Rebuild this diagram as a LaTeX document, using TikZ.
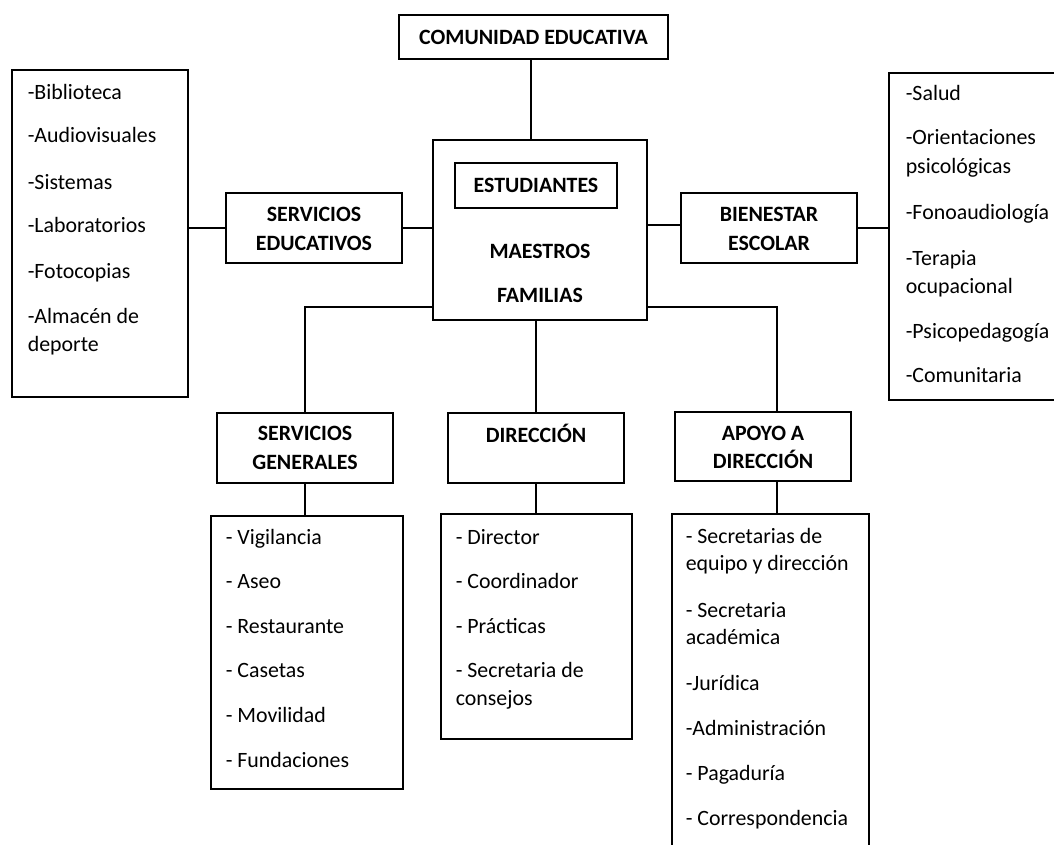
\documentclass[tikz,border=0pt]{standalone}
\usepackage{fontspec}
\setmainfont{Carlito}
\begin{document}
\begin{tikzpicture}[x=0.75pt,y=-0.75pt,
  line width=1.2pt,
  box/.style={draw, rectangle, inner sep=0pt},
  hd/.style={font=\fontsize{16.4}{21.5}\selectfont\bfseries, align=center, inner sep=0pt},
  it/.style={font=\fontsize{16.4}{21}\selectfont, anchor=base west, inner sep=0pt}]
\clip (0,0) rectangle (1054,844);
\fill[white] (0,0) rectangle (1054,844);
% top
\node[box, minimum width=269*0.75pt, minimum height=44*0.75pt] (com) at (533.5,37) {};
\node[hd] (comt) at (533.5,37) {COMUNIDAD EDUCATIVA};
% center box
\node[box, minimum width=214*0.75pt, minimum height=180*0.75pt] (cen) at (540,230) {};
\node[box, minimum width=162*0.75pt, minimum height=45*0.75pt] (est) at (536,185.5) {};
\node[hd] (estt) at (536,185.5) {ESTUDIANTES};
\node[hd] (mae) at (540,251) {MAESTROS};
\node[hd] (fam) at (540,295) {FAMILIAS};
% servicios educativos
\node[box, minimum width=176*0.75pt, minimum height=70*0.75pt] (se) at (314,228) {};
\node[hd] (set) at (314,229) {SERVICIOS\\EDUCATIVOS};
\node[box, minimum width=176*0.75pt, minimum height=327*0.75pt] (ll) at (100,233.5) {};
\node[it] (l1) at (27,99) {-Biblioteca};
\node[it] (l2) at (27,142) {-Audiovisuales};
\node[it] (l3) at (27,189) {-Sistemas};
\node[it] (l4) at (27,232) {-Laboratorios};
\node[it] (l5) at (27,278) {-Fotocopias};
\node[it] (l6) at (27,323) {-Almacén de};
\node[it] (l7) at (27,351) {deporte};
% bienestar
\node[box, minimum width=176*0.75pt, minimum height=70*0.75pt] (be) at (769,228) {};
\node[hd] (bet) at (769,229) {BIENESTAR\\ESCOLAR};
\node[box, minimum width=180*0.75pt, minimum height=327*0.75pt] (rl) at (979,236.5) {};
\node[it] (r1) at (905,100) {-Salud};
\node[it] (r2) at (905,144) {-Orientaciones};
\node[it] (r3) at (905,173) {psicológicas};
\node[it] (r4) at (905,219) {-Fonoaudiología};
\node[it] (r5) at (905,265) {-Terapia};
\node[it] (r6) at (905,293) {ocupacional};
\node[it] (r7) at (905,338) {-Psicopedagogía};
\node[it] (r8) at (905,382) {-Comunitaria};
% servicios generales
\node[box, minimum width=176*0.75pt, minimum height=70*0.75pt] (sg) at (305,448) {};
\node[hd] (sgt) at (305,448) {SERVICIOS\\GENERALES};
\node[box, minimum width=192*0.75pt, minimum height=273*0.75pt] (sgl) at (307,652.5) {};
\node[it] (g1) at (225,544) {- Vigilancia};
\node[it] (g2) at (225,588) {- Aseo};
\node[it] (g3) at (225,633) {- Restaurante};
\node[it] (g4) at (225,677) {- Casetas};
\node[it] (g5) at (225,722) {- Movilidad};
\node[it] (g6) at (225,767) {- Fundaciones};
% direccion
\node[box, minimum width=176*0.75pt, minimum height=70*0.75pt] (dir) at (536,448) {};
\node[hd] (dirt) at (536,433) {DIRECCIÓN};
\node[box, minimum width=191*0.75pt, minimum height=225*0.75pt] (dirl) at (536.5,626.5) {};
\node[it] (d1) at (455,544) {- Director};
\node[it] (d2) at (455,588) {- Coordinador};
\node[it] (d3) at (455,633) {- Prácticas};
\node[it] (d4) at (455,677) {- Secretaria de};
\node[it] (d5) at (455,705) {consejos};
% apoyo
\node[box, minimum width=176*0.75pt, minimum height=69*0.75pt] (ap) at (763,446.5) {};
\node[hd] (apt) at (763,447.5) {APOYO A\\DIRECCIÓN};
\node[box, minimum width=197*0.75pt, minimum height=346*0.75pt] (apl) at (770.5,687) {};
\node[it] (a1) at (685,543) {- Secretarias de};
\node[it] (a2) at (685,570) {equipo y dirección};
\node[it] (a3) at (685,617) {- Secretaria};
\node[it] (a4) at (685,644) {académica};
\node[it] (a5) at (685,690) {-Jurídica};
\node[it] (a6) at (685,735) {-Administración};
\node[it] (a7) at (685,780) {- Pagaduría};
\node[it] (a8) at (685,825) {- Correspondencia};
% connectors
\coordinate (xc) at (531,0);
\coordinate (xd) at (536,0);
\coordinate (yl) at (0,228);
\coordinate (yr) at (0,225);
\coordinate (yb) at (0,307);
\coordinate (xap) at (777,0);
\draw (xc |- com.south) -- (xc |- cen.north);
\draw (ll.east |- yl) -- (se.west |- yl);
\draw (se.east |- yl) -- (cen.west |- yl);
\draw (cen.east |- yr) -- (be.west |- yr);
\draw (be.east |- yl) -- (rl.west |- yl);
\draw (cen.west |- yb) -| (sg.north);
\draw (xd |- cen.south) -- (dir.north);
\draw (cen.east |- yb) -| (xap |- ap.north);
\draw (sg.south) -- (sg.south |- sgl.north);
\draw (dir.south) -- (dir.south |- dirl.north);
\draw (xap |- ap.south) -- (xap |- apl.north);
\end{tikzpicture}
\end{document}
